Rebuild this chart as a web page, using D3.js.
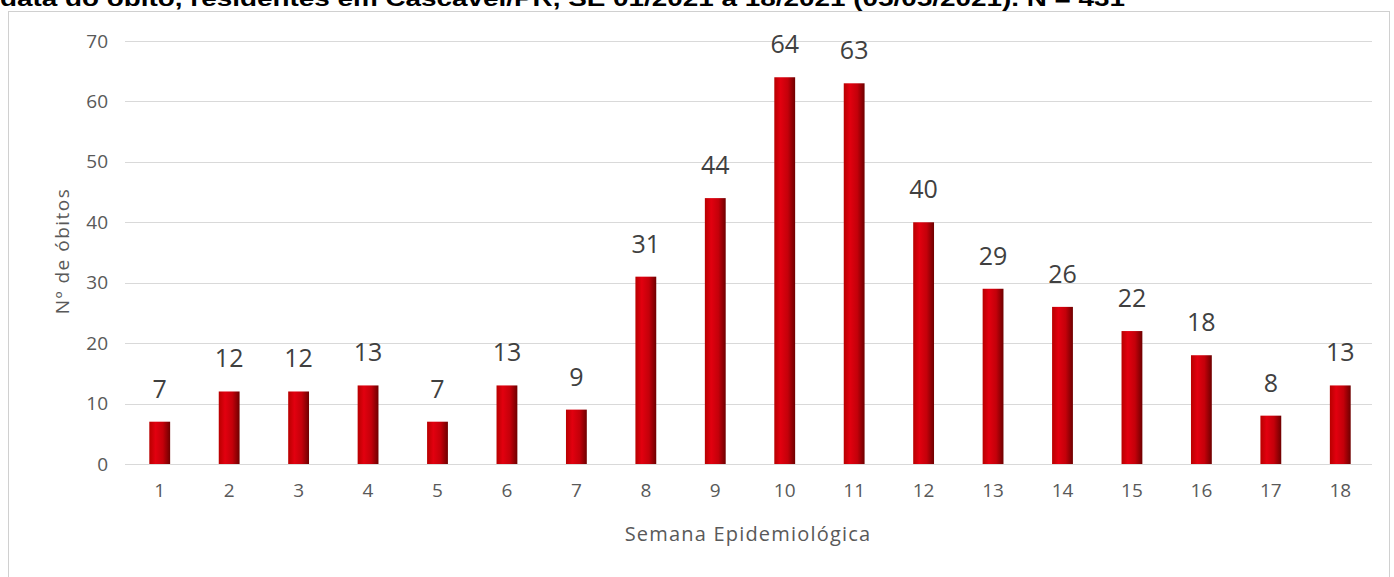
<!DOCTYPE html>
<html>
<head>
<meta charset="utf-8">
<script src="https://cdn.jsdelivr.net/npm/d3@7"></script>
<style>
  html, body { margin: 0; padding: 0; background: #fff; }
  svg { display: block; }
</style>
</head>
<body>
<svg id="chart" width="1394" height="577"></svg>
<script>
// óbitos por semana epidemiológica
var weeks = ['1','2','3','4','5','6','7','8','9','10','11','12','13','14','15','16','17','18'];
var deaths = [7, 12, 12, 13, 7, 13, 9, 31, 44, 64, 63, 40, 29, 26, 22, 18, 8, 13];
var yTicks = [0, 10, 20, 30, 40, 50, 60, 70];
var titleText = 'data do óbito, residentes em Cascavel/PR, SE 01/2021 a 18/2021 (05/05/2021). N = 431';
var xTitle = 'Semana Epidemiológica';
var yTitle = 'Nº de óbitos';

var svg = d3.select('#chart');
var FONT = '"Open Sans", "Noto Sans", sans-serif';

// gradiente das barras (estilo excel)
var defs = svg.append('defs');
var grad = defs.append('linearGradient').attr('id', 'barGrad').attr('x1', '0').attr('x2', '1').attr('y1', '0').attr('y2', '0');
grad.append('stop').attr('offset', '0%').attr('stop-color', '#b80000');
grad.append('stop').attr('offset', '30%').attr('stop-color', '#e2000f');
grad.append('stop').attr('offset', '65%').attr('stop-color', '#c4000a');
grad.append('stop').attr('offset', '100%').attr('stop-color', '#6e0000');

// título cortado no topo (como na imagem original)
svg.append('text')
  .attr('x', 0).attr('y', 6)
  .attr('font-family', '"Liberation Sans", Arial, sans-serif')
  .attr('font-weight', 'bold').attr('font-size', 22)
  .attr('textLength', 1125).attr('lengthAdjust', 'spacingAndGlyphs')
  .attr('fill', '#000')
  .text(titleText);

// moldura do gráfico
svg.append('rect')
  .attr('x', 8.5).attr('y', 11.5).attr('width', 1381).attr('height', 580)
  .attr('fill', '#fff').attr('stroke', '#d0d0d0').attr('stroke-width', 1);

var x = d3.scaleBand().domain(weeks).range([125, 1375]).paddingInner(0.7).paddingOuter(0.35);
var y = d3.scaleLinear().domain([0, 70]).range([464, 41]);

// grade
svg.append('g').selectAll('line').data(yTicks).enter().append('line')
  .attr('x1', 125).attr('x2', 1372)
  .attr('y1', function (d) { return Math.round(y(d)) + 0.5; })
  .attr('y2', function (d) { return Math.round(y(d)) + 0.5; })
  .attr('stroke', '#d9d9d9').attr('stroke-width', 1);

// eixo y (só rótulos)
var yAxis = svg.append('g').attr('transform', 'translate(108,0)')
  .call(d3.axisLeft(y).tickValues(yTicks).tickSize(0).tickPadding(0));
yAxis.select('.domain').remove();
yAxis.selectAll('text').attr('font-family', FONT).attr('font-size', 19).attr('fill', '#595959');

// eixo x (só rótulos)
var xAxis = svg.append('g').attr('transform', 'translate(0,483)')
  .call(d3.axisBottom(x).tickSize(0).tickPadding(0));
xAxis.select('.domain').remove();
xAxis.selectAll('text').attr('font-family', FONT).attr('font-size', 19).attr('fill', '#595959');

// barras
svg.append('g').selectAll('rect').data(deaths).enter().append('rect')
  .attr('x', function (d, i) { return x(weeks[i]); })
  .attr('y', function (d) { return y(d); })
  .attr('width', x.bandwidth())
  .attr('height', function (d) { return y(0) - y(d); })
  .attr('fill', 'url(#barGrad)');

// rótulos de valor
svg.append('g').selectAll('text').data(deaths).enter().append('text')
  .attr('x', function (d, i) { return x(weeks[i]) + x.bandwidth() / 2; })
  .attr('y', function (d) { return y(d) - 24; })
  .attr('text-anchor', 'middle')
  .attr('font-family', FONT).attr('font-size', 25).attr('fill', '#404040')
  .text(function (d) { return d; });

// títulos dos eixos
svg.append('text')
  .attr('x', 748).attr('y', 541).attr('text-anchor', 'middle')
  .attr('font-family', FONT).attr('font-size', 20).attr('letter-spacing', 1.2).attr('fill', '#595959')
  .text(xTitle);
svg.append('text')
  .attr('transform', 'translate(69,251) rotate(-90)').attr('text-anchor', 'middle')
  .attr('font-family', FONT).attr('font-size', 19).attr('letter-spacing', 1.5).attr('fill', '#595959')
  .text(yTitle);
</script>
</body>
</html>
